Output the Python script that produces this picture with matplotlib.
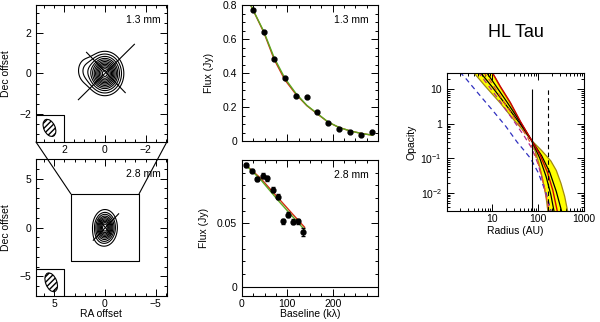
import numpy as np
import matplotlib
matplotlib.use("Agg")
import matplotlib.pyplot as plt
from matplotlib.patches import Ellipse, ConnectionPatch
from matplotlib.ticker import MultipleLocator, LogLocator, NullFormatter

plt.rcParams['font.family'] = ['Liberation Sans', 'DejaVu Sans']
plt.rcParams['font.size'] = 7.5
plt.rcParams['mathtext.fontset'] = 'custom'
plt.rcParams['mathtext.rm'] = 'Liberation Sans'

# ---- image panels: gaussian components (x, y, sx, sy, amp) and contour levels
C13_X = [0.0, 0.95]
C13_Y = [0.0, 0.15]
C13_SX = [0.38, 0.30]
C13_SY = [0.45, 0.45]
C13_AMP = [1.0, 0.09]
LEV13 = [0.05, 0.1, 0.17, 0.25, 0.33, 0.42, 0.51, 0.6, 0.69, 0.78, 0.87, 0.95]

C28_X = [0.0, 0.4]
C28_Y = [0.0, -1.1]
C28_SX = [0.5, 0.5]
C28_SY = [0.75, 0.5]
C28_AMP = [1.0, 0.05]
LEV28 = [0.05, 0.12, 0.2, 0.3, 0.4, 0.5, 0.6, 0.7, 0.8, 0.9]

# ---- visibility data
B13 = [25, 48, 71, 94.5, 119, 143, 166, 190, 214, 238, 261.5, 286]
F13 = [0.77, 0.64, 0.484, 0.37, 0.263, 0.26, 0.168, 0.105, 0.073, 0.053, 0.037, 0.055]
FIT13_B = [20, 48, 71, 94.5, 119, 143, 166, 190, 214, 238, 261, 288]
FIT13_G = [0.795, 0.645, 0.49, 0.37, 0.28, 0.21, 0.162, 0.112, 0.08, 0.06, 0.046, 0.034]
FIT13_R = [0.795, 0.64, 0.48, 0.36, 0.275, 0.208, 0.16, 0.111, 0.08, 0.06, 0.046, 0.034]

B28 = [8.8, 22, 33.7, 45.4, 56, 67.4, 78.4, 90.8, 101.8, 112.8, 124.5, 135.6]
F28 = [0.0959, 0.0917, 0.085, 0.0875, 0.0855, 0.0766, 0.0709, 0.0516, 0.0568, 0.0513, 0.0516, 0.0433]
E28 = [0.0015, 0.0015, 0.0015, 0.002, 0.002, 0.002, 0.002, 0.002, 0.002, 0.002, 0.002, 0.003]
FIT28_B = [7, 40, 80, 110, 138]
FIT28_G = [0.0965, 0.085, 0.068, 0.056, 0.045]
FIT28_R = [0.0965, 0.086, 0.070, 0.058, 0.047]

# ---- opacity profiles (radius AU, opacity)
R_A = [3.9, 7.1, 15, 30, 50, 73, 120, 190, 250, 316, 380, 445]
T_A = [32, 12.5, 4.1, 1.3, 0.6, 0.33, 0.17, 0.085, 0.045, 0.019, 0.008, 0.0028]
R_B = [10, 15, 25, 42, 58, 73, 90, 105, 120, 136, 150, 165]
T_B = [32, 12, 4, 1.1, 0.55, 0.33, 0.14, 0.07, 0.033, 0.015, 0.0075, 0.0028]
R_K1 = [5.5, 10, 20, 40, 73, 110, 150, 190, 225]
T_K1 = [32, 12, 3.6, 1.05, 0.33, 0.1, 0.03, 0.009, 0.0028]
R_K2 = [7.5, 12, 22, 40, 73, 120, 180, 250, 330]
T_K2 = [32, 13, 4.0, 1.2, 0.33, 0.12, 0.04, 0.011, 0.0028]
R_RS = [10, 15, 25, 42, 73, 110, 160, 210, 265]
T_RS = [32, 12.5, 4.2, 1.15, 0.33, 0.13, 0.04, 0.012, 0.0028]
R_BL = [2.0, 2.6, 4, 6.5, 10, 20, 35, 50, 69, 100, 150, 195]
T_BL = [32, 22, 11, 5.1, 2.6, 0.85, 0.3, 0.17, 0.1, 0.04, 0.01, 0.0028]
R_MG = [5, 8, 15, 30, 50, 73, 100, 130, 160, 185]
T_MG = [32, 14, 4.5, 1.2, 0.45, 0.2, 0.07, 0.02, 0.006, 0.0028]
R_RD = [6.5, 10, 20, 40, 60, 80, 110, 140, 175]
T_RD = [32, 15, 3.5, 0.9, 0.4, 0.18, 0.05, 0.013, 0.0028]
R_VLINES = [73, 167]


def model_image(xs, ys, cx, cy, sx, sy, amp):
    X, Y = np.meshgrid(xs, ys)
    Z = np.zeros_like(X)
    for i in range(len(cx)):
        Z += amp[i] * np.exp(-0.5 * (((X - cx[i]) / sx[i]) ** 2 + ((Y - cy[i]) / sy[i]) ** 2))
    return X, Y, Z


def style_ticks(ax):
    ax.tick_params(which='both', direction='in', top=True, right=True, width=0.7)
    ax.tick_params(which='major', length=5)
    ax.tick_params(which='minor', length=2.5)
    ax.tick_params(axis='x', pad=2.5)
    for s in ax.spines.values():
        s.set_linewidth(0.8)


fig = plt.figure(figsize=(6.0, 3.22), dpi=100)

# ---------------- top-left: 1.3 mm image
ax1 = fig.add_axes([0.06, 0.559, 0.218, 0.4255])
xs = np.linspace(-3.5, 3.5, 300)
X, Y, Z = model_image(xs, xs, C13_X, C13_Y, C13_SX, C13_SY, C13_AMP)
ax1.contour(X, Y, Z, levels=LEV13, colors='black', linewidths=0.8)
ax1.plot([1.3, -1.45], [-1.3, 1.45], color='black', lw=0.8)
ax1.plot([0.9, -1.0], [1.05, -0.95], color='black', lw=0.8)
ax1.plot([2.0, 2.0, 3.5], [-3.5, -2.05, -2.05], color='black', lw=0.8)
ax1.add_patch(Ellipse((2.72, -2.7), 0.55, 0.9, angle=-25, facecolor='white',
                      edgecolor='black', hatch='//////', lw=0.8))
ax1.set_xlim(3.38, -3.04)
ax1.set_ylim(-3.4, 3.4)
ax1.xaxis.set_major_locator(MultipleLocator(2))
ax1.xaxis.set_minor_locator(MultipleLocator(0.5))
ax1.yaxis.set_major_locator(MultipleLocator(2))
ax1.yaxis.set_minor_locator(MultipleLocator(0.5))
ax1.set_ylabel('Dec offset', labelpad=6)
ax1.text(0.95, 0.93, '1.3 mm', transform=ax1.transAxes, ha='right', va='top')
style_ticks(ax1)

# ---------------- bottom-left: 2.8 mm image
ax2 = fig.add_axes([0.06, 0.0807, 0.218, 0.4255])
xs2 = np.linspace(-7, 7, 300)
X, Y, Z = model_image(xs2, xs2, C28_X, C28_Y, C28_SX, C28_SY, C28_AMP)
ax2.contour(X, Y, Z, levels=LEV28, colors='black', linewidths=0.8)
ax2.plot([1.15, -1.35], [-1.3, 1.4], color='black', lw=0.8)
ax2.plot([0.6, -0.6], [0.8, -0.7], color='black', lw=0.8)
ax2.plot([3.37, -3.37, -3.37, 3.37, 3.37], [3.45, 3.45, -3.45, -3.45, 3.45], color='black', lw=0.8)
ax2.plot([4.0, 4.0, 7.0], [-7.0, -4.2, -4.2], color='black', lw=0.8)
ax2.add_patch(Ellipse((5.3, -5.6), 1.1, 2.0, angle=-20, facecolor='white',
                      edgecolor='black', hatch='//////', lw=0.8))
ax2.set_xlim(6.8, -6.1)
ax2.set_ylim(-7, 7)
ax2.xaxis.set_major_locator(MultipleLocator(5))
ax2.xaxis.set_minor_locator(MultipleLocator(1))
ax2.yaxis.set_major_locator(MultipleLocator(5))
ax2.yaxis.set_minor_locator(MultipleLocator(1))
ax2.set_ylabel('Dec offset', labelpad=6)
ax2.set_xlabel('RA offset', labelpad=0)
ax2.text(0.95, 0.93, '2.8 mm', transform=ax2.transAxes, ha='right', va='top')
style_ticks(ax2)

for xa, xb in [(0, 3.37), (1, -3.37)]:
    con = ConnectionPatch(xyA=(xa, 0), coordsA=ax1.transAxes, xyB=(xb, 3.45),
                          coordsB=ax2.transData, color='black', lw=0.8)
    fig.add_artist(con)

# ---------------- top-middle: 1.3 mm visibilities
ax3 = fig.add_axes([0.4033, 0.562, 0.2267, 0.4224])
ax3.plot(FIT13_B, FIT13_R, color='#d03010', lw=1.0)
ax3.plot(FIT13_B, FIT13_G, color='#5aa820', lw=1.0)
ax3.plot(B13, F13, 'o', color='black', ms=3.5)
ax3.set_xlim(0, 300)
ax3.set_ylim(0, 0.8)
ax3.xaxis.set_major_locator(MultipleLocator(100))
ax3.xaxis.set_minor_locator(MultipleLocator(25))
ax3.yaxis.set_minor_locator(MultipleLocator(0.05))
ax3.set_yticks([0, 0.2, 0.4, 0.6, 0.8])
ax3.set_yticklabels(['0', '0.2', '0.4', '0.6', '0.8'])
ax3.tick_params(labelbottom=False)
ax3.set_ylabel('Flux (Jy)', labelpad=6)
ax3.text(0.93, 0.93, '1.3 mm', transform=ax3.transAxes, ha='right', va='top')
style_ticks(ax3)

# ---------------- bottom-middle: 2.8 mm visibilities
ax4 = fig.add_axes([0.4033, 0.0807, 0.2267, 0.4224])
ax4.axhline(0, color='black', lw=0.8)
ax4.plot(FIT28_B, FIT28_R, color='#d03010', lw=1.0)
ax4.plot(FIT28_B, FIT28_G, color='#5aa820', lw=1.0)
ax4.errorbar(B28, F28, yerr=E28, fmt='o', color='black', ms=3.5, elinewidth=0.8, capsize=1.5)
ax4.set_xlim(0, 300)
ax4.set_ylim(-0.0073, 0.1)
ax4.xaxis.set_minor_locator(MultipleLocator(25))
ax4.set_yticks([0, 0.05])
ax4.set_yticklabels(['0', '0.05'])
ax4.yaxis.set_minor_locator(MultipleLocator(0.01))
ax4.set_xticks([0, 100, 200])
ax4.set_ylabel('Flux (Jy)', labelpad=6)
ax4.set_xlabel('Baseline (k\u03bb)', labelpad=0)
ax4.text(0.93, 0.93, '2.8 mm', transform=ax4.transAxes, ha='right', va='top')
style_ticks(ax4)

# ---------------- right: HL Tau opacity
ax5 = fig.add_axes([0.745, 0.3447, 0.2283, 0.4286])
ax5.set_xscale('log')
ax5.set_yscale('log')
ax5.fill(R_A + R_B[::-1], T_A + T_B[::-1], color='#ffff00', lw=0)
ax5.plot(R_A, T_A, color='#a08a10', lw=0.9)
ax5.plot(R_B, T_B, color='#a08a10', lw=0.9)
ax5.plot(R_K1, T_K1, color='black', lw=0.9)
ax5.plot(R_K2, T_K2, color='black', lw=0.9)
ax5.plot(R_RS, T_RS, color='#cc0000', lw=1.0)
ax5.plot(R_BL, T_BL, color='#3030c0', lw=0.9, ls=(0, (4, 3)))
ax5.plot(R_MG, T_MG, color='#b02890', lw=0.9, ls=(0, (4, 3)))
ax5.plot(R_RD, T_RD, color='#e05030', lw=0.9, ls=(0, (4, 3)))
ax5.vlines(R_VLINES[0], 0.003, 10, color='black', lw=0.8)
ax5.vlines(R_VLINES[1], 0.003, 10, color='black', lw=0.8, linestyles=(0, (4, 3)))
ax5.set_xlim(1.05, 1000)
ax5.set_ylim(0.003, 30)
ax5.set_xticks([10, 100, 1000])
ax5.set_xticklabels(['10', '100', '1000'])
ax5.xaxis.set_minor_locator(LogLocator(base=10, subs=np.arange(2, 10)))
ax5.xaxis.set_minor_formatter(NullFormatter())
ax5.set_yticks([0.01, 0.1, 1, 10])
ax5.set_yticklabels(['$10^{-2}$', '$10^{-1}$', '1', '10'])
ax5.yaxis.set_minor_locator(LogLocator(base=10, subs=np.arange(2, 10)))
ax5.yaxis.set_minor_formatter(NullFormatter())
ax5.set_xlabel('Radius (AU)', labelpad=1)
ax5.set_ylabel('Opacity', labelpad=3)
ax5.set_title('HL Tau', fontsize=13, pad=26)
style_ticks(ax5)

fig.savefig('out.png', dpi=100)
